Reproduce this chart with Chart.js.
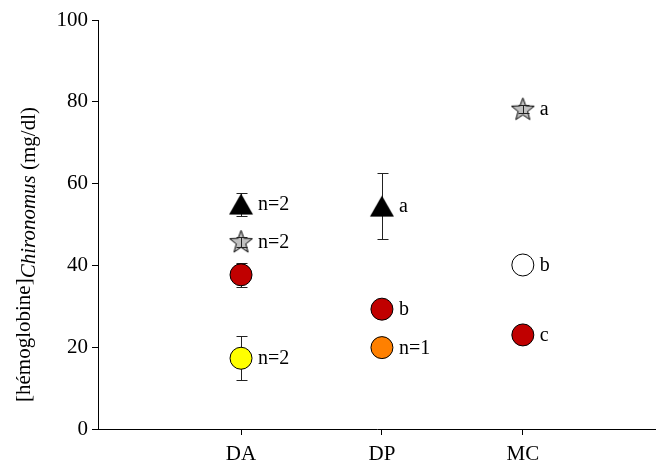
<!DOCTYPE html>
<html>
<head>
<meta charset="utf-8">
<script src="https://cdn.jsdelivr.net/npm/chart.js@4/dist/chart.umd.min.js"></script>
<style>
  html, body { margin: 0; padding: 0; background: #fff; }
  #wrap { width: 656px; height: 465px; }
</style>
</head>
<body>
<div id="wrap"><canvas id="c" width="656" height="465"></canvas></div>
<script>
// Sites and y-axis ticks
const categories = ['DA', 'DP', 'MC'];
const yTicks = [0, 20, 40, 60, 80, 100];

// Mean haemoglobin (mg/dl), error half-widths and letters / sample sizes per site
const triangleMean = [55.0, 54.5, null];
const triangleErr  = [2.8, 8.1, null];
const triangleNote = ['n=2', 'a', null];

const starMean = [45.8, null, 78.2];
const starErr  = [1.2, null, 1.0];
const starNote = ['n=2', null, 'a'];

const redMean = [37.7, 29.3, 23.0];
const redErr  = [3.0, null, null];
const redNote = [null, 'b', 'c'];

const yellowMean = [17.3, null, null];
const yellowErr  = [5.4, null, null];
const yellowNote = ['n=2', null, null];

const orangeMean = [null, 19.9, null];
const orangeErr  = [null, null, null];
const orangeNote = [null, 'n=1', null];

const whiteMean = [null, null, 40.1];
const whiteErr  = [null, null, null];
const whiteNote = [null, null, 'b'];

const SERIF = "'Liberation Serif', 'Times New Roman', serif";

// Build scatter points for one series; x is the 1-based site position
function points(mean, err, note) {
  const out = [];
  mean.forEach((m, i) => {
    if (m !== null) out.push({ x: i + 1, y: m, err: err[i], note: note[i] });
  });
  return out;
}

// Filled up-pointing triangle marker
function triangleImage() {
  const cv = document.createElement('canvas');
  cv.width = 26; cv.height = 23;
  const g = cv.getContext('2d');
  g.beginPath();
  g.moveTo(1, 22); g.lineTo(13, 1); g.lineTo(25, 22); g.closePath();
  g.fillStyle = '#000'; g.fill();
  return cv;
}

// Grey five-pointed star marker with black outline
function starImage() {
  const cv = document.createElement('canvas');
  cv.width = 27; cv.height = 27;
  const g = cv.getContext('2d');
  const cx = 13.5, cy = 14.2, R = 12, r = 5;
  g.beginPath();
  for (let k = 0; k < 10; k++) {
    const rad = (k % 2 === 0) ? R : r;
    const a = -Math.PI / 2 + k * Math.PI / 5;
    const px = cx + rad * Math.cos(a), py = cy + rad * Math.sin(a);
    if (k === 0) g.moveTo(px, py); else g.lineTo(px, py);
  }
  g.closePath();
  g.fillStyle = '#c0c0c0'; g.fill();
  g.strokeStyle = '#000'; g.lineWidth = 1; g.stroke();
  return cv;
}

const circle = (fill) => ({
  pointStyle: 'circle', pointRadius: 11, pointHoverRadius: 11,
  pointBackgroundColor: fill, pointBorderColor: '#000', pointBorderWidth: 1
});

const datasets = [
  Object.assign({ label: 'red', data: points(redMean, redErr, redNote) }, circle('#c00000')),
  Object.assign({ label: 'yellow', data: points(yellowMean, yellowErr, yellowNote) }, circle('#ffff00')),
  Object.assign({ label: 'orange', data: points(orangeMean, orangeErr, orangeNote) }, circle('#ff8000')),
  Object.assign({ label: 'white', data: points(whiteMean, whiteErr, whiteNote) }, circle('#ffffff')),
  { label: 'triangle', data: points(triangleMean, triangleErr, triangleNote),
    pointStyle: triangleImage(), pointRadius: 12 },
  { label: 'star', data: points(starMean, starErr, starNote),
    pointStyle: starImage(), pointRadius: 12, barsOnTop: true }
];

function drawBars(chart, onTop) {
  const ctx = chart.ctx, ys = chart.scales.y;
  ctx.save();
  ctx.strokeStyle = '#222';
  ctx.lineWidth = 1;
  chart.data.datasets.forEach((ds, di) => {
    if (!!ds.barsOnTop !== onTop) return;
    const meta = chart.getDatasetMeta(di);
    ds.data.forEach((p, i) => {
      if (p.err === null || p.err === undefined) return;
      const x = Math.round(meta.data[i].x) + 0.5;
      const top = Math.round(ys.getPixelForValue(p.y + p.err)) + 0.5;
      const bot = Math.round(ys.getPixelForValue(p.y - p.err)) + 0.5;
      ctx.beginPath();
      ctx.moveTo(x, top); ctx.lineTo(x, bot);
      ctx.moveTo(x - 5, top); ctx.lineTo(x + 6, top);
      ctx.moveTo(x - 5, bot); ctx.lineTo(x + 6, bot);
      ctx.stroke();
    });
  });
  ctx.restore();
}

const errorBars = {
  id: 'errorBars',
  beforeDatasetsDraw(chart) { drawBars(chart, false); },
  afterDatasetsDraw(chart) { drawBars(chart, true); }
};

// Letters and sample sizes written to the right of each mark
const notes = {
  id: 'notes',
  afterDatasetsDraw(chart) {
    const ctx = chart.ctx;
    ctx.save();
    ctx.fillStyle = '#000';
    ctx.font = '20px ' + SERIF;
    ctx.textAlign = 'left';
    ctx.textBaseline = 'middle';
    chart.data.datasets.forEach((ds, di) => {
      const meta = chart.getDatasetMeta(di);
      ds.data.forEach((p, i) => {
        if (!p.note) return;
        const el = meta.data[i];
        ctx.fillText(p.note, el.x + 17, el.y + 1);
      });
    });
    ctx.restore();
  }
};

// Rotated y-axis title with the genus name in italics, set slightly lower
const yTitle = {
  id: 'yTitle',
  afterDraw(chart) {
    const ctx = chart.ctx, area = chart.chartArea;
    const parts = [
      { t: '[hémoglobine]', f: '21px ' + SERIF, dy: 0 },
      { t: 'Chironomus', f: 'italic 21px ' + SERIF, dy: 5 },
      { t: ' (mg/dl)', f: '21px ' + SERIF, dy: 5 }
    ];
    ctx.save();
    let total = 0;
    parts.forEach(p => { ctx.font = p.f; p.w = ctx.measureText(p.t).width; total += p.w; });
    ctx.translate(30, (area.top + area.bottom) / 2 + 30);
    ctx.rotate(-Math.PI / 2);
    ctx.fillStyle = '#000';
    ctx.textBaseline = 'alphabetic';
    ctx.textAlign = 'left';
    let x = -total / 2;
    parts.forEach(p => { ctx.font = p.f; ctx.fillText(p.t, x, p.dy); x += p.w; });
    ctx.restore();
  }
};

const axisCommon = {
  border: { display: true, color: '#000', width: 1 },
  grid: { display: true, drawOnChartArea: false, drawTicks: true, tickLength: 6, color: '#000' },
  ticks: { color: '#000', font: { family: SERIF, size: 21 }, padding: 4, autoSkip: false }
};

new Chart(document.getElementById('c'), {
  type: 'scatter',
  data: { datasets },
  options: {
    responsive: false,
    animation: false,
    events: [],
    layout: { autoPadding: false, padding: { top: 20, left: 0, right: 0, bottom: 0 } },
    plugins: { legend: { display: false }, tooltip: { enabled: false } },
    scales: {
      x: Object.assign({}, axisCommon, {
        type: 'linear', min: -0.015, max: 3.945,
        afterBuildTicks(scale) { scale.ticks = categories.map((c, i) => ({ value: i + 1 })); },
        afterFit(scale) { scale.height = 36; scale.paddingLeft = 0; scale.paddingRight = 0; },
        ticks: Object.assign({}, axisCommon.ticks, {
          padding: 7,
          callback: (v) => categories[v - 1] || ''
        })
      }),
      y: Object.assign({}, axisCommon, {
        type: 'linear', min: 0, max: 100,
        afterBuildTicks(scale) { scale.ticks = yTicks.map(v => ({ value: v })); },
        afterFit(scale) { scale.width = 98; scale.paddingTop = 0; scale.paddingBottom = 0; }
      })
    }
  },
  plugins: [errorBars, notes, yTitle]
});
</script>
</body>
</html>
